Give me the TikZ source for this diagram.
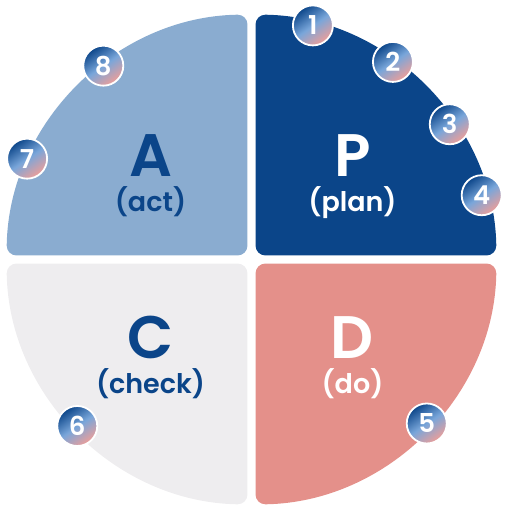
\documentclass[tikz,border=0pt]{standalone}
\usepackage{fontspec}
\setmainfont{Poppins}[BoldFont={* SemiBold}]
\definecolor{lan}{HTML}{0B4589}
\definecolor{qianlan}{HTML}{8AACD0}
\definecolor{hui}{HTML}{EEEDEF}
\definecolor{fen}{HTML}{E4908A}
\definecolor{zhonglan}{HTML}{79A6DA}
\definecolor{qianfen}{HTML}{EE9E98}
\newcommand{\shan}[2]
{
	\fill[#2, rotate=#1, rounded corners=10] (4,4) -- (89.06:245) arc (89.06:0.94:245) -- cycle;
}
\tikzset{
	hao/.style={circle, minimum size=40, inner sep=0pt, draw=white, line width=1.8,
		top color=lan, bottom color=qianfen, middle color=zhonglan, shading angle=35,
		text=white, font=\bfseries\fontsize{26}{26}\selectfont},
	da/.style={anchor=base, font=\bfseries\fontsize{60}{60}\selectfont},
	xiao/.style={anchor=base, font=\bfseries\fontsize{27}{27}\selectfont}
}

\begin{document}
\begin{tikzpicture}[x=1pt, y=1pt]
	\useasboundingbox (-251.5,-251.5) rectangle (259.5,259.5);
	\shan{0}{lan}
	\shan{90}{qianlan}
	\shan{180}{hui}
	\shan{270}{fen}
	\node[da, text=lan] (A) at (-101,83) {A};
	\node[xiao, text=lan] (act) at (-101,48) {(act)};
	\node[da, text=white] (P) at (101,83) {P};
	\node[xiao, text=white] (plan) at (101,48) {(plan)};
	\node[da, text=lan] (C) at (-101,-99) {C};
	\node[xiao, text=lan] (check) at (-101,-134) {(check)};
	\node[da, text=white] (D) at (101,-99) {D};
	\node[xiao, text=white] (do) at (101,-134) {(do)};
	\foreach \a/\r/\n in {75.3/242/1, 54.4/243/2, 34.3/240/3, 15.6/239/4, -43.1/240/5, 223.7/241/6, 155.8/246/7, 127.4/244/8}
		\node[hao] (h\n) at (\a:\r) {\n};
\end{tikzpicture}
\end{document}
